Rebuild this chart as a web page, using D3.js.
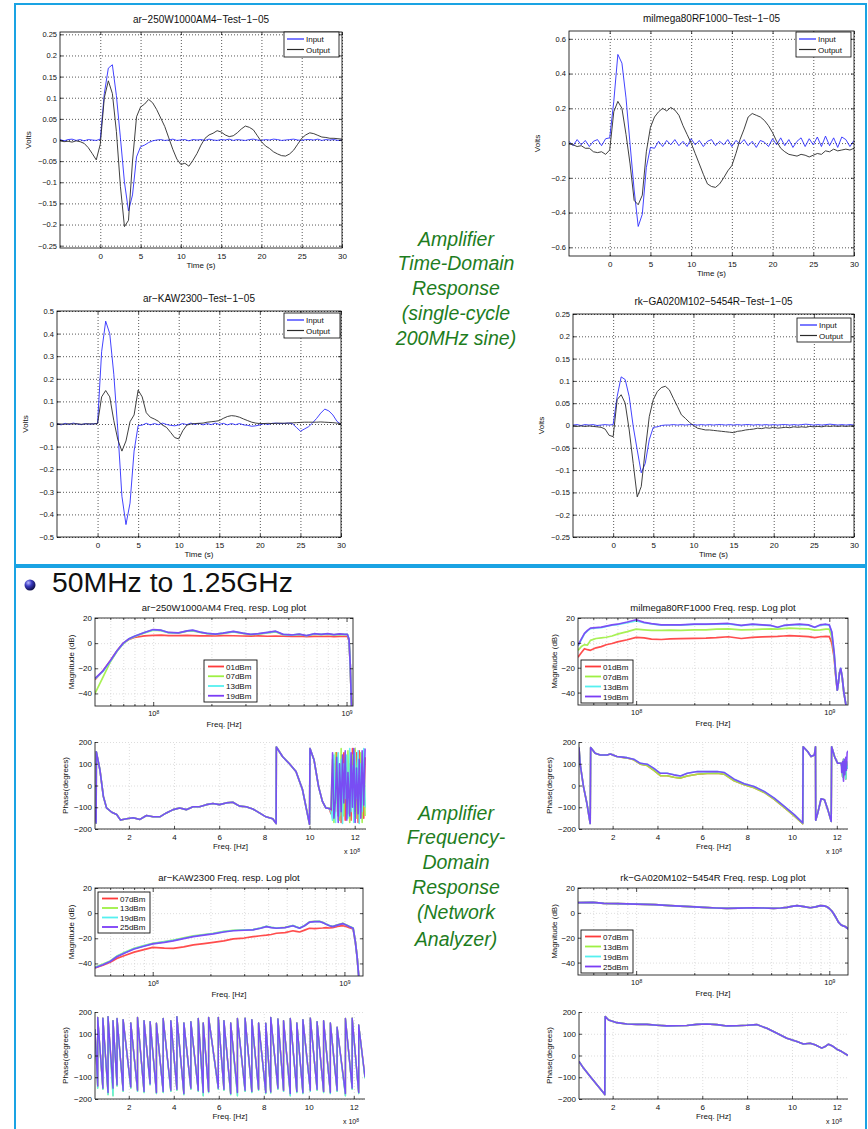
<!DOCTYPE html>
<html><head><meta charset="utf-8">
<script src="https://cdn.jsdelivr.net/npm/d3@7"></script>
<style>body{margin:0;background:#fff}svg{display:block}</style>
</head><body><script>
// ---------------- DATA ----------------
const timeGrid = [-5,-4.5,-4,-3.5,-3,-2.5,-2,-1.5,-1,-0.5,0,0.5,1,1.5,2,2.5,3,3.5,4,4.5,5,5.5,6,6.5,7,7.5,8,8.5,9,9.5,10,10.5,11,11.5,12,12.5,13,13.5,14,14.5,15,15.5,16,16.5,17,17.5,18,18.5,19,19.5,20,20.5,21,21.5,22,22.5,23,23.5,24,24.5,25,25.5,26,26.5,27,27.5,28,28.5,29,29.5,30];
const timeXTicks = [0,5,10,15,20,25,30];
const timeLegend = ['Input','Output'];

// ar-250W1000AM4
const tlTitle = 'ar−250W1000AM4−Test−1−05';
const tlYTicks = [-0.25,-0.2,-0.15,-0.1,-0.05,0,0.05,0.1,0.15,0.2,0.25];
const tlInput = [0.001,-0.002,0.001,0.002,-0.001,0.001,-0.002,0.001,0.000,-0.001,
 0.002,0.110,0.170,0.178,0.105,0.005,-0.100,-0.168,-0.130,-0.040,-0.016,-0.012,-0.006,-0.002,
 0.000,0.001,-0.001,0.000,0.002,-0.001,0.000,0.001,-0.002,0.001,0.000,0.001,-0.001,0.002,0.000,-0.001,0.001,0.000,0.002,-0.001,
 0.001,0.000,-0.001,0.001,0.002,0.000,-0.001,0.001,0.000,0.002,0.001,-0.001,0.000,0.001,0.002,0.000,-0.001,0.001,0.001,0.000,
 0.002,-0.001,0.001,0.000,0.001,-0.001,0.000];
const tlOutput = [-0.002,-0.004,-0.003,-0.005,-0.002,-0.004,-0.008,-0.018,-0.032,-0.047,
 -0.010,0.100,0.140,0.110,0.020,-0.110,-0.205,-0.190,-0.050,0.055,0.078,0.085,0.096,0.088,
 0.072,0.052,0.032,0.005,-0.022,-0.045,-0.058,-0.055,-0.062,-0.048,-0.032,-0.012,0.004,0.012,0.016,0.022,0.019,0.012,0.008,0.010,
 0.017,0.026,0.033,0.030,0.024,0.010,-0.004,-0.014,-0.020,-0.028,-0.033,-0.037,-0.038,-0.033,-0.024,-0.010,0.004,0.012,0.017,0.015,
 0.011,0.007,0.006,0.004,0.004,0.003,0.002];

// milmega80RF1000
const trTitle = 'milmega80RF1000−Test−1−05';
const trYTicks = [-0.6,-0.4,-0.2,0,0.2,0.4,0.6];
const trInput = [0.010,-0.015,0.020,-0.010,0.015,-0.020,0.010,0.020,-0.015,0.025,
 0.030,0.240,0.510,0.460,0.260,-0.006,-0.270,-0.480,-0.410,-0.140,-0.025,-0.030,0.010,-0.020,
 0.015,-0.010,0.020,-0.015,0.010,-0.020,0.025,-0.010,0.015,-0.020,0.010,0.020,-0.015,0.010,-0.010,0.020,-0.020,0.015,-0.005,0.020,
 -0.015,0.010,-0.025,0.015,0.005,-0.020,0.025,-0.010,0.030,-0.015,0.020,-0.025,0.010,0.030,-0.020,0.025,-0.010,0.035,-0.020,0.040,
 -0.015,0.030,-0.025,0.035,0.020,-0.020,0.015];
const trOutput = [-0.005,-0.010,-0.020,-0.015,-0.030,-0.030,-0.050,-0.055,-0.050,-0.065,
 -0.040,0.180,0.240,0.200,0.050,-0.120,-0.330,-0.355,-0.300,-0.050,0.090,0.150,0.180,0.200,
 0.185,0.205,0.190,0.160,0.100,0.050,0.000,-0.060,-0.120,-0.180,-0.235,-0.250,-0.255,-0.235,-0.200,-0.160,-0.130,-0.060,0.020,0.080,
 0.150,0.170,0.160,0.150,0.130,0.100,0.060,0.010,-0.030,-0.050,-0.065,-0.070,-0.075,-0.065,-0.070,-0.080,-0.070,-0.060,-0.065,-0.045,
 -0.050,-0.035,-0.045,-0.040,-0.035,-0.040,-0.030];

// ar-KAW2300
const blTitle = 'ar−KAW2300−Test−1−05';
const blYTicks = [-0.5,-0.4,-0.3,-0.2,-0.1,0,0.1,0.2,0.3,0.4,0.5];
const blInput = [0.002,-0.004,0.003,-0.002,0.004,0.000,-0.003,0.002,-0.001,0.001,
 0.003,0.320,0.455,0.400,0.220,-0.030,-0.320,-0.445,-0.350,-0.120,-0.007,-0.005,0.003,-0.004,
 0.002,-0.003,0.004,-0.002,-0.006,-0.008,-0.004,0.002,-0.003,0.004,-0.002,0.003,-0.004,0.002,-0.003,0.004,-0.002,0.003,-0.004,0.002,
 -0.003,0.002,-0.004,-0.006,-0.010,-0.008,-0.004,0.002,-0.002,0.003,0.004,0.002,0.003,0.004,0.002,-0.015,-0.032,-0.022,-0.012,0.005,
 0.025,0.048,0.066,0.058,0.040,0.012,-0.002];
const blOutput = [0.001,0.000,-0.001,0.001,0.000,0.001,-0.001,0.000,0.001,0.000,
 0.002,0.120,0.148,0.120,0.015,-0.070,-0.120,-0.075,0.010,0.040,0.150,0.120,0.050,0.030,
 0.022,0.012,-0.005,-0.015,-0.037,-0.060,-0.066,-0.030,-0.005,0.000,0.002,0.003,0.004,0.008,0.010,0.012,0.015,0.025,0.033,0.037,
 0.035,0.030,0.022,0.015,0.008,0.004,0.002,0.002,0.003,0.002,0.003,0.004,0.003,0.004,0.005,0.006,0.007,0.008,0.008,0.008,
 0.008,0.009,0.008,0.007,0.006,0.004,0.002];

// rk-GA020M102-5454R
const brTitle = 'rk−GA020M102−5454R−Test−1−05';
const brYTicks = [-0.25,-0.2,-0.15,-0.1,-0.05,0,0.05,0.1,0.15,0.2,0.25];
const brInput = [0.001,0.002,0.000,0.002,0.001,0.002,0.000,0.001,0.002,0.001,
 0.002,0.065,0.109,0.103,0.065,-0.002,-0.055,-0.106,-0.085,-0.032,-0.004,-0.003,0.000,0.001,
 0.001,0.002,0.001,0.002,0.001,0.002,0.002,0.001,0.002,0.001,0.002,0.001,0.002,0.002,0.001,0.002,0.001,0.002,0.001,0.002,
 0.002,0.001,0.002,0.001,0.002,0.001,0.002,0.001,0.002,0.002,0.001,0.002,0.001,0.002,0.003,0.002,0.001,0.002,0.001,0.002,
 0.003,0.002,0.001,0.002,0.001,0.002,0.001];
const brOutput = [-0.001,-0.002,-0.001,-0.002,-0.001,-0.002,-0.003,-0.004,-0.008,-0.022,
 -0.025,0.058,0.069,0.050,-0.010,-0.085,-0.160,-0.137,-0.055,0.020,0.058,0.076,0.085,0.088,
 0.080,0.061,0.043,0.024,0.016,0.007,0.000,-0.006,-0.008,-0.010,-0.010,-0.011,-0.012,-0.013,-0.014,-0.015,-0.016,-0.013,-0.012,-0.010,
 -0.009,-0.008,-0.006,-0.007,-0.005,-0.006,-0.004,-0.006,-0.005,-0.004,-0.005,-0.003,-0.004,-0.003,-0.004,-0.002,-0.003,-0.002,-0.003,-0.001,
 -0.002,-0.001,-0.002,-0.001,-0.002,-0.001,-0.002];

// ---- Frequency domain (frequencies in MHz, magnitudes in dB) ----
const magYTicks = [-40,-20,0,20];
const magMajorTicks = [100,1000];
const magMajorExp = ['8','9'];
const magMinorTicks = [60,70,80,90,200,300,400,500,600,700,800,900];
const legendA = ['01dBm','07dBm','13dBm','19dBm'];
const legendB = ['07dBm','13dBm','19dBm','25dBm'];

const m1Title = 'ar−250W1000AM4 Freq. resp. Log plot';
const m1Freq = [50,55,60,65,70,75,80,90,100,110,120,135,150,160,175,190,210,230,260,290,320,350,390,430,470,520,570,620,680,740,800,860,920,980,1010,1030,1045,1060,1080];
const m1Red    = [-29,-22,-14,-6,0,3,4.5,5.8,6.2,6.3,6,6,6.2,6,5.8,5.8,5.7,6,5.9,5.7,5.6,5.8,5.5,5.7,5.5,5.3,5.5,5.2,5.4,5.3,5.5,5.2,5.4,5.3,5.3,2,-17,-48,-70];
const m1Green  = [-40,-27,-15,-6.5,-0.5,3.2,5.2,8.2,10.3,10,8.3,8,9.5,9.8,8.5,7.5,7,7.8,9,7.8,6.8,7.2,8.2,9,6.8,6.3,7,5.9,7.2,6.8,7.2,6.6,7,6.8,6.8,3,-17,-48,-70];
const m1Cyan   = [-28.5,-22.5,-14.5,-6.2,-0.2,3.4,5.4,8.4,10.6,10.2,8.4,8.1,9.8,10.1,8.7,7.7,7.1,7.9,9.2,7.9,6.9,7.4,8.4,9.3,6.9,6.4,7.1,5.9,7.4,6.9,7.4,6.7,7.2,6.9,6.9,3,-17,-48,-70];
const m1Purple = [-28,-22,-14,-6,0,3.5,5.5,8.5,10.8,10.3,8.5,8.2,9.8,10.3,8.8,7.8,7.2,8,9.3,8,7,7.5,8.5,9.5,7,6.5,7.2,6,7.5,7,7.5,6.8,7.3,7,7,3,-17,-48,-70];

const m2Title = 'milmega80RF1000 Freq. resp. Log plot';
const m2Freq = [50,52,54,56,58,62,66,70,75,80,90,100,110,120,135,150,170,200,230,260,300,350,400,450,500,540,580,620,700,780,840,900,960,1000,1030,1060,1080,1100,1115,1130,1146,1165,1190,1220,1250];
const m2Red    = [-11.5,-8,-4.7,-5.5,-6,-4,-3,-1.5,-0.5,0.8,2.5,4.4,4,3,2.7,3.2,3.4,3.6,3.8,4.2,4.9,3.5,4.4,4.8,5,5.2,5.5,5.8,5.4,5,4.2,4.9,5.2,5,0,-12,-27,-38,-32,-24,-21,-27,-40,-50,-62];
const m2Green  = [-6,-3,-1.4,-1.8,2,3.5,4,4.5,5.5,7,9,11,10.5,10,10,10.2,10,10.5,10.5,11,11.2,10.5,10.7,11,11.3,11,11.5,11.8,11.5,11.2,10.2,10.4,11,11,5,-10,-26,-38,-32,-24,-21,-27,-40,-50,-62];
const m2Cyan   = [-2.5,2.5,7.2,9.6,11.4,12,12.3,13.2,14.2,14.7,16.3,17.6,16.2,15.2,14.3,14.3,14.3,14.8,14.8,15,15.3,13.8,14.8,14.2,13.8,12.4,13.8,14.2,14.7,14.2,12.4,14.2,14.7,14.2,8.5,-8.5,-25,-38,-32,-24,-20.5,-27,-40,-50,-62];
const m2Purple = [-2,3,7.7,10,11.8,12.3,12.6,13.5,14.5,15,16.8,18.6,16.5,15.5,14.5,14.5,14.5,15,15,15.3,15.6,14,15,14.5,14,12.6,14,14.5,15,14.5,12.6,14.5,15,14.5,9,-8,-25,-38,-32,-24,-20.5,-27,-40,-50,-62];

const m3Title = 'ar−KAW2300 Freq. resp. Log plot';
const m3Freq = [50,55,60,65,72,80,90,100,115,128,145,163,185,207,235,263,300,334,365,392,415,442,490,539,560,584,620,657,700,742,770,802,835,869,920,980,1020,1060,1110,1140,1165,1190,1230,1250];
const m3Red    = [-43.5,-41.5,-39,-36,-33.5,-31,-29,-27.2,-27.8,-28,-26.8,-25.3,-24.2,-23.2,-22,-20.5,-19.8,-18.7,-18,-17.5,-17,-16,-15.5,-14,-14.5,-15,-13.5,-12,-12.3,-12,-11.8,-11.5,-11.8,-11.5,-10.5,-10,-10.5,-11.5,-12.5,-22.7,-35,-52,-55,-55];
const m3Green  = [-43,-40.5,-38,-34.2,-31,-28,-25.8,-24,-22.6,-21.4,-19.7,-18.1,-17,-16,-14.5,-13.6,-13.2,-13,-11.8,-10.4,-11.2,-11.8,-11.3,-9.8,-10.8,-11.8,-9.8,-7,-6.6,-6.5,-7.3,-8.6,-9.8,-10.5,-9.3,-8.1,-9.3,-10.5,-11.8,-22.5,-35,-52,-55,-55];
const m3Cyan   = [-43.2,-40.8,-38.2,-34.4,-31.2,-28.2,-26,-24.2,-22.9,-21.7,-20,-18.4,-17.2,-16.2,-14.7,-13.8,-13.4,-13.1,-11.9,-10.5,-11.3,-11.9,-11.4,-9.9,-10.9,-11.9,-9.9,-7.1,-6.7,-6.6,-7.4,-8.7,-9.9,-10.6,-9.4,-8.2,-9.4,-10.6,-11.9,-22.6,-35,-52,-55,-55];
const m3Purple = [-43.5,-41,-38.5,-34.7,-31.5,-28.5,-26.3,-24.5,-23.2,-22,-20.3,-18.7,-17.5,-16.5,-15,-14,-13.6,-13.3,-12,-10.7,-11.5,-12,-11.5,-10,-11,-12,-10,-7.2,-6.8,-6.7,-7.5,-8.8,-10,-10.7,-9.5,-8.3,-9.5,-10.7,-12,-22.7,-35,-52,-55,-55];

const m4Title = 'rk−GA020M102−5454R Freq. resp. Log plot';
const m4Freq = [50,60,68,80,100,125,150,190,224,260,295,340,406,460,515,560,604,640,681,740,796,850,898,940,972,1000,1030,1052,1080,1115,1140,1159,1180,1207,1230,1254];
const m4Vals = [8.2,8.5,7.7,7.5,7.1,6.6,5.8,5,4.4,3.9,3.6,3.8,4.1,3.9,3.6,3.9,4.4,5.2,5.8,5,4.1,4.8,5.8,5.6,4.9,3.5,1.5,-0.5,-3.5,-7.4,-9,-10,-10.5,-11,-12,-13];

// ---- Phase (frequency in units of 1e8 Hz, phase in degrees) ----
const phaseYTicks = [-200,-100,0,100,200];
const phaseXTicks = [2,4,6,8,10,12];

const p1Freq = [0.5,0.55,0.56,0.72,0.87,1.01,1.24,1.46,1.63,1.9,2.19,2.49,2.78,3.07,3.37,3.66,3.96,4.25,4.54,4.84,5.13,5.43,5.72,6.01,6.31,6.6,6.9,7.19,7.49,7.78,8.07,8.37,8.52,8.53,8.81,9.1,9.4,9.69,9.91,10.0,10.02,10.2,10.4,10.57,10.72,10.87];
const p1Vals = [-110,-172,155,71,-50,-103,-123,-133,-159,-153,-148,-156,-138,-144,-144,-126,-111,-103,-111,-98,-98,-88,-83,-88,-80,-77,-95,-98,-108,-126,-144,-153,-175,177,132,101,64,-20,-133,-178,170,117,-5,-73,-103,-106];
const p1NoiseFreq = [10.95,11.02,11.08,11.15,11.2,11.27,11.33,11.4,11.46,11.52,11.58,11.65,11.7,11.78,11.84,11.9,11.96,12.02,12.08,12.15,12.2,12.27,12.33,12.4,12.46];
const p1NoiseRed    = [-130,-50,100,-120,150,-140,60,-170,100,150,-160,80,-130,100,-160,170,-60,-120,150,-170,160,-100,60,-150,130];
const p1NoiseGreen  = [-100,120,-170,150,-80,100,-160,170,-60,-140,130,-100,160,-170,60,140,-130,170,-150,100,-60,150,-170,120,-140];
const p1NoiseCyan   = [-120,-160,140,-170,60,150,-140,120,-175,100,-60,140,-150,170,-120,90,-170,150,-60,160,-175,100,-120,170,-100];
const p1NoisePurple = [-110,150,-150,-60,130,-170,100,-120,140,-80,160,-160,60,-140,150,-100,170,-170,80,-130,120,-150,160,-90,170];

const p2Freq = [0.5,0.55,0.7,0.85,1.0,1.02,1.22,1.45,1.75,1.9,2.19,2.64,2.94,3.24,3.54,3.84,4.13,4.43,4.73,5.03,5.33,5.78,6.22,6.67,6.97,7.42,7.87,8.31,8.76,9.21,9.66,10.1,10.48,10.5,10.7,10.85,11.0,11.05,11.06,11.15,11.3,11.45,11.6,11.75,11.77,11.9,12.04,12.2];
const p2Purple   = [175,100,-5,-81,-175,175,148,140,140,145,133,128,121,102,98,79,56,56,49,44,56,64,64,64,60,29,8,-5,-27,-58,-96,-134,-172,178,156,133,140,178,-160,-127,-61,-66,-111,-165,178,133,102,102];
const p2RedGreen = [175,100,-5,-81,-175,175,148,140,140,145,133,126,118,98,92,70,45,45,38,34,44,52,55,56,52,22,3,-10,-32,-64,-102,-140,-176,178,156,133,140,178,-160,-127,-61,-66,-111,-165,178,133,102,102];
const p2NoiseFreq = [12.22,12.26,12.3,12.33,12.36,12.4,12.43,12.46,12.5];
const p2NoisePurple = [60,110,20,120,50,130,70,150,160];
const p2NoiseOther  = [90,40,120,60,100,30,110,80,90];

const p3PeakFreq = [0.5,0.62,0.85,1.08,1.3,1.48,1.75,2.09,2.39,2.68,2.95,3.23,3.53,3.87,4.14,4.45,4.76,5.09,5.31,5.55,5.98,6.23,6.53,6.83,7.17,7.47,7.77,8.09,8.31,8.63,8.88,9.18,9.47,9.74,10.07,10.37,10.66,10.96,11.26,11.63,11.93,12.22,12.5];
const p3PeakTop = [120,175,172,178,160,170,165,150,175,160,155,148,170,160,178,150,155,170,150,175,175,160,150,170,172,165,150,148,175,168,160,170,150,165,172,155,160,150,130,170,172,140];
const p3Trough  = [-140,-150,-170,-150,-135,-160,-145,-160,-165,-130,-170,-165,-160,-155,-175,-150,-160,-170,-165,-150,-155,-175,-170,-160,-165,-155,-170,-168,-150,-160,-175,-165,-170,-160,-155,-165,-170,-160,-175,-150,-170,-100];
const p3TroughAlt = [-150,-155,-180,-185,-140,-165,-150,-165,-170,-135,-175,-170,-165,-160,-180,-155,-165,-185,-170,-155,-160,-180,-185,-165,-170,-160,-175,-172,-155,-165,-185,-170,-175,-165,-160,-170,-175,-165,-185,-155,-175,-105];

const p4Freq = [0.5,0.7,1.0,1.3,1.6,1.65,1.67,1.82,2.19,2.64,3.08,3.53,3.98,4.42,4.87,5.31,5.76,6.2,6.65,7.1,7.54,7.99,8.43,8.88,9.33,9.77,10.22,10.51,10.81,11.03,11.33,11.48,11.63,11.78,12.0,12.22,12.5];
const p4Vals = [-27,-58,-96,-134,-172,-180,179,163,151,145,143,143,139,136,137,138,143,145,142,136,137,139,142,125,102,79,64,53,56,49,34,41,52,45,29,18,0];

const annoTop = ['Amplifier','Time-Domain','Response','(single-cycle','200MHz sine)'];
const annoBottom = ['Amplifier','Frequency-','Domain','Response','(Network','Analyzer)'];
const heading = '50MHz to 1.25GHz';

// ---------------- DRAWING ----------------
const FONT = '"Liberation Sans", Arial, Helvetica, sans-serif';
const COL = {red:'#ff3a3a', green:'#9ef043', cyan:'#55f0f0', purple:'#7b3cf6', blue:'#2222ff', black:'#2a2a2a'};
const svg = d3.select('body').append('svg').attr('width',868).attr('height',1129)
  .style('font-family',FONT);
const defs = svg.append('defs');
let clipN = 0;
function addClip(x0,y0,x1,y1){
  const id = 'clip'+(clipN++);
  defs.append('clipPath').attr('id',id).append('rect').attr('x',x0).attr('y',y0).attr('width',x1-x0).attr('height',y1-y0);
  return `url(#${id})`;
}
function fmtNum(v){ const s = String(+Math.abs(v).toFixed(3)); return (v<0?'−':'')+s; }
function cleanAxis(sel, fs){
  sel.select('.domain').remove();
  sel.selectAll('.tick line').attr('stroke','#000').attr('stroke-width',0.7);
  sel.selectAll('.tick text').attr('font-size',fs).attr('font-family',FONT).attr('fill','#111');
}
function gridAxis(g, axis, transform, color){
  const a = g.append('g').attr('transform',transform).call(axis);
  a.select('.domain').remove();
  a.selectAll('.tick line').attr('stroke',color).attr('stroke-width',0.7).attr('stroke-dasharray','1,2');
  return a;
}
function text(g,x,y,str,fs,anchor,extra){
  const t = g.append('text').attr('x',x).attr('y',y).attr('font-size',fs).attr('text-anchor',anchor||'middle').attr('fill','#111').text(str);
  if(extra) extra(t);
  return t;
}
function vtext(g,x,y,str,fs){
  return g.append('text').attr('transform',`translate(${x},${y}) rotate(-90)`).attr('font-size',fs).attr('text-anchor','middle').attr('fill','#111').text(str);
}

// frames
svg.append('rect').attr('x',15).attr('y',4).attr('width',851).attr('height',561).attr('fill','none').attr('stroke','#1aa3e3').attr('stroke-width',2);
svg.append('rect').attr('x',15).attr('y',567).attr('width',851).attr('height',570).attr('fill','none').attr('stroke','#1aa3e3').attr('stroke-width',2);

function timePlot(o){
  const [x0,y0,x1,y1] = o.box;
  const x = d3.scaleLinear().domain([-5,30]).range([x0,x1]);
  const y = d3.scaleLinear().domain(o.ylim).range([y1,y0]);
  const g = svg.append('g');
  g.append('rect').attr('x',x0).attr('y',y0).attr('width',x1-x0).attr('height',y1-y0).attr('fill','#fff');
  gridAxis(g, d3.axisBottom(x).tickValues(timeXTicks).tickSize(-(y1-y0)).tickFormat(''), `translate(0,${y1})`, '#111');
  gridAxis(g, d3.axisLeft(y).tickValues(o.yticks).tickSize(-(x1-x0)).tickFormat(''), `translate(${x0},0)`, '#111');
  const clip = addClip(x0,y0,x1,y1);
  const gl = g.append('g').attr('clip-path',clip);
  const line = d3.line().x((d,i)=>x(timeGrid[i])).y(d=>y(d));
  gl.append('path').datum(o.input).attr('d',line).attr('fill','none').attr('stroke',COL.blue).attr('stroke-width',1).attr('stroke-opacity',0.85);
  gl.append('path').datum(o.output).attr('d',line).attr('fill','none').attr('stroke',COL.black).attr('stroke-width',0.9);
  g.append('rect').attr('x',x0).attr('y',y0).attr('width',x1-x0).attr('height',y1-y0).attr('fill','none').attr('stroke','#000').attr('stroke-width',0.8);
  cleanAxis(g.append('g').attr('transform',`translate(0,${y1})`).call(d3.axisBottom(x).tickValues(timeXTicks).tickFormat(fmtNum).tickSizeInner(-3).tickSizeOuter(0).tickPadding(5)),8);
  cleanAxis(g.append('g').attr('transform',`translate(0,${y0})`).call(d3.axisTop(x).tickValues(timeXTicks).tickFormat('').tickSizeInner(-3).tickSizeOuter(0)),8);
  cleanAxis(g.append('g').attr('transform',`translate(${x0},0)`).call(d3.axisLeft(y).tickValues(o.yticks).tickFormat(fmtNum).tickSizeInner(-3).tickSizeOuter(0).tickPadding(3)),7.5);
  cleanAxis(g.append('g').attr('transform',`translate(${x1},0)`).call(d3.axisRight(y).tickValues(o.yticks).tickFormat('').tickSizeInner(-3).tickSizeOuter(0)),8);
  text(g,(x0+x1)/2,y0-9,o.title,10);
  text(g,(x0+x1)/2,y1+20,'Time (s)',8);
  vtext(g,x0-29,(y0+y1)/2,'Volts',8);
  // legend
  const [lx0,ly0,lx1,ly1] = o.legend;
  g.append('rect').attr('x',lx0).attr('y',ly0).attr('width',lx1-lx0).attr('height',ly1-ly0).attr('fill','#fff').attr('stroke','#000').attr('stroke-width',0.8);
  const lcol = [COL.blue, COL.black];
  timeLegend.forEach((name,i)=>{
    const yy = ly0 + 7 + i*10.5;
    g.append('line').attr('x1',lx0+3).attr('x2',lx0+20).attr('y1',yy).attr('y2',yy).attr('stroke',lcol[i]).attr('stroke-width',1.2);
    text(g,lx0+22,yy+3,name,8,'start');
  });
}

timePlot({box:[60,32,342,248], ylim:[-0.2555,0.2555], yticks:tlYTicks, input:tlInput, output:tlOutput, title:tlTitle, legend:[284,32,339,57]});
timePlot({box:[569,31,854,256], ylim:[-0.65,0.645], yticks:trYTicks, input:trInput, output:trOutput, title:trTitle, legend:[796,32,851,57]});
timePlot({box:[57,311,341,537], ylim:[-0.5,0.5], yticks:blYTicks, input:blInput, output:blOutput, title:blTitle, legend:[284,313,340,338]});
timePlot({box:[573,314,854,537], ylim:[-0.25,0.25], yticks:brYTicks, input:brInput, output:brOutput, title:brTitle, legend:[797,318,851,342]});

function freqLegend(g, box, names, cols){
  const [lx0,ly0,lx1,ly1] = box;
  g.append('rect').attr('x',lx0).attr('y',ly0).attr('width',lx1-lx0).attr('height',ly1-ly0).attr('fill','#fff').attr('stroke','#111').attr('stroke-width',0.9);
  names.forEach((n,i)=>{
    const yy = ly0 + 6.5 + i*(ly1-ly0-3)/4;
    g.append('line').attr('x1',lx0+4).attr('x2',lx0+20).attr('y1',yy).attr('y2',yy).attr('stroke',cols[i]).attr('stroke-width',1.8);
    text(g,lx0+22,yy+3,n,8,'start');
  });
}

function magPlot(o){
  const [x0,y0,x1,y1] = o.box;
  const x = d3.scaleLog().domain(o.xdom).range([x0,x1]);
  const y = d3.scaleLinear().domain([-50,20]).range([y1,y0]);
  const g = svg.append('g');
  const vt = magMajorTicks.concat(magMinorTicks).filter(v=>v>o.xdom[0]&&v<o.xdom[1]);
  gridAxis(g, d3.axisBottom(x).tickValues(vt).tickSize(-(y1-y0)).tickFormat(''), `translate(0,${y1})`, '#cfcfcf');
  gridAxis(g, d3.axisLeft(y).tickValues(magYTicks).tickSize(-(x1-x0)).tickFormat(''), `translate(${x0},0)`, '#cfcfcf');
  const gl = g.append('g').attr('clip-path',addClip(x0,y0,x1,y1));
  o.series.forEach(s=>{
    gl.append('path').datum(s.vals).attr('d',d3.line().x((d,i)=>x(o.freq[i])).y(d=>y(d)))
      .attr('fill','none').attr('stroke',s.color).attr('stroke-width',1.7).attr('stroke-opacity',0.9).attr('stroke-linejoin','round');
  });
  g.append('rect').attr('x',x0).attr('y',y0).attr('width',x1-x0).attr('height',y1-y0).attr('fill','none').attr('stroke','#222').attr('stroke-width',0.9);
  const mt = magMinorTicks.filter(v=>v>o.xdom[0]&&v<o.xdom[1]);
  const ax = g.append('g').attr('transform',`translate(0,${y1})`).call(d3.axisBottom(x).tickValues(magMajorTicks).tickFormat(d=>'10').tickSizeInner(-4).tickSizeOuter(0).tickPadding(5));
  cleanAxis(ax,7.5);
  ax.selectAll('.tick text').each(function(d,i){ d3.select(this).append('tspan').attr('dy','-0.5em').attr('font-size',5).text(magMajorExp[i]); });
  cleanAxis(g.append('g').attr('transform',`translate(0,${y1})`).call(d3.axisBottom(x).tickValues(mt).tickFormat('').tickSizeInner(-2).tickSizeOuter(0)),7);
  cleanAxis(g.append('g').attr('transform',`translate(0,${y0})`).call(d3.axisTop(x).tickValues(magMajorTicks).tickFormat('').tickSizeInner(-4).tickSizeOuter(0)),7);
  cleanAxis(g.append('g').attr('transform',`translate(0,${y0})`).call(d3.axisTop(x).tickValues(mt).tickFormat('').tickSizeInner(-2).tickSizeOuter(0)),7);
  cleanAxis(g.append('g').attr('transform',`translate(${x0},0)`).call(d3.axisLeft(y).tickValues(magYTicks).tickFormat(fmtNum).tickSizeInner(-3).tickSizeOuter(0).tickPadding(3)),8);
  cleanAxis(g.append('g').attr('transform',`translate(${x1},0)`).call(d3.axisRight(y).tickValues(magYTicks).tickFormat('').tickSizeInner(-3).tickSizeOuter(0)),8);
  text(g,(x0+x1)/2,y0-7,o.title,9.5);
  text(g,(x0+x1)/2,y1+21,'Freq. [Hz]',8);
  vtext(g,x0-21,(y0+y1)/2,'Magnitude (dB)',8);
  freqLegend(g,o.legend,o.legendNames,o.series.map(s=>s.color));
}

function phasePlot(o){
  const [x0,y0,x1,y1] = o.box;
  const x = d3.scaleLinear().domain([0.5,12.5]).range([x0,x1]);
  const y = d3.scaleLinear().domain([-200,200]).range([y1,y0]);
  const g = svg.append('g');
  gridAxis(g, d3.axisBottom(x).tickValues(phaseXTicks).tickSize(-(y1-y0)).tickFormat(''), `translate(0,${y1})`, '#cfcfcf');
  gridAxis(g, d3.axisLeft(y).tickValues(phaseYTicks).tickSize(-(x1-x0)).tickFormat(''), `translate(${x0},0)`, '#cfcfcf');
  const gl = g.append('g').attr('clip-path',addClip(x0,y0-1,x1,y1+1));
  o.series.forEach(s=>{
    gl.append('path').datum(s.pts).attr('d',d3.line().x(d=>x(d[0])).y(d=>y(d[1])))
      .attr('fill','none').attr('stroke',s.color).attr('stroke-width',o.lw||1.6).attr('stroke-opacity',0.9).attr('stroke-linejoin','round');
  });
  g.append('line').attr('x1',x0).attr('x2',x0).attr('y1',y0).attr('y2',y1).attr('stroke','#222').attr('stroke-width',0.9);
  g.append('line').attr('x1',x0).attr('x2',x1).attr('y1',y1).attr('y2',y1).attr('stroke','#222').attr('stroke-width',0.9);
  cleanAxis(g.append('g').attr('transform',`translate(0,${y1})`).call(d3.axisBottom(x).tickValues(phaseXTicks).tickFormat(d3.format('d')).tickSizeInner(-3).tickSizeOuter(0).tickPadding(5)),8);
  cleanAxis(g.append('g').attr('transform',`translate(${x0},0)`).call(d3.axisLeft(y).tickValues(phaseYTicks).tickFormat(fmtNum).tickSizeInner(-3).tickSizeOuter(0).tickPadding(3)),8);
  text(g,(x0+x1)/2,y1+20,'Freq. [Hz]',8);
  const xl = text(g,x1-22,y1+25,'x 10',7,'start');
  xl.append('tspan').attr('dy','-0.5em').attr('font-size',5).text('8');
  vtext(g,x0-27,(y0+y1)/2,'Phase(degrees)',8);
}

function zipPts(f,v){ return f.map((ff,i)=>[ff,v[i]]); }
function sawPts(peaks,tops,troughs){
  const pts=[];
  tops.forEach((t,i)=>{ pts.push([peaks[i],t]); pts.push([peaks[i+1],troughs[i]]); });
  return pts;
}

magPlot({box:[95,618,353,706], xdom:[50,1080], freq:m1Freq, title:m1Title, legend:[204,660,257,702], legendNames:legendA,
  series:[{vals:m1Red,color:COL.red},{vals:m1Green,color:COL.green},{vals:m1Cyan,color:COL.cyan},{vals:m1Purple,color:COL.purple}]});
magPlot({box:[578,618,848,705], xdom:[50,1250], freq:m2Freq, title:m2Title, legend:[581,660,633,703], legendNames:legendA,
  series:[{vals:m2Red,color:COL.red},{vals:m2Green,color:COL.green},{vals:m2Cyan,color:COL.cyan},{vals:m2Purple,color:COL.purple}]});
magPlot({box:[95,888,363,976], xdom:[50,1250], freq:m3Freq, title:m3Title, legend:[98,892,150,933], legendNames:legendB,
  series:[{vals:m3Red,color:COL.red},{vals:m3Green,color:COL.green},{vals:m3Cyan,color:COL.cyan},{vals:m3Purple,color:COL.purple}]});
magPlot({box:[578,888,848,975], xdom:[50,1250], freq:m4Freq, title:m4Title, legend:[581,930,633,973], legendNames:legendB,
  series:[{vals:m4Vals,color:COL.red},{vals:m4Vals,color:COL.green},{vals:m4Vals,color:COL.cyan},{vals:m4Vals,color:COL.purple}]});

const p1Base = zipPts(p1Freq,p1Vals);
phasePlot({box:[95,742,366,829], series:[
  {pts:p1Base.concat(zipPts(p1NoiseFreq,p1NoiseRed)),color:COL.red},
  {pts:p1Base.concat(zipPts(p1NoiseFreq,p1NoiseGreen)),color:COL.green},
  {pts:p1Base.concat(zipPts(p1NoiseFreq,p1NoiseCyan)),color:COL.cyan},
  {pts:p1Base.concat(zipPts(p1NoiseFreq,p1NoisePurple)),color:COL.purple}]});
phasePlot({box:[579,742,848,829], series:[
  {pts:zipPts(p2Freq,p2RedGreen).concat(zipPts(p2NoiseFreq,p2NoiseOther)),color:COL.red},
  {pts:zipPts(p2Freq,p2RedGreen).concat(zipPts(p2NoiseFreq,p2NoiseOther)),color:COL.green},
  {pts:zipPts(p2Freq,p2Purple).concat(zipPts(p2NoiseFreq,p2NoiseOther)),color:COL.cyan},
  {pts:zipPts(p2Freq,p2Purple).concat(zipPts(p2NoiseFreq,p2NoisePurple)),color:COL.purple}]});
phasePlot({box:[95,1012,365,1099], lw:1.4, series:[
  {pts:sawPts(p3PeakFreq,p3PeakTop,p3Trough),color:COL.red},
  {pts:sawPts(p3PeakFreq,p3PeakTop,p3TroughAlt),color:COL.green},
  {pts:sawPts(p3PeakFreq,p3PeakTop,p3TroughAlt),color:COL.cyan},
  {pts:sawPts(p3PeakFreq,p3PeakTop,p3Trough),color:COL.purple}]});
phasePlot({box:[579,1012,848,1099], series:[
  {pts:zipPts(p4Freq,p4Vals),color:COL.red},
  {pts:zipPts(p4Freq,p4Vals),color:COL.green},
  {pts:zipPts(p4Freq,p4Vals),color:COL.cyan},
  {pts:zipPts(p4Freq,p4Vals),color:COL.purple}]});

// green annotations
const GREEN = '#1e7d1e';
const annTopY = [246,270,295,320,345];
const annBotY = [820,844,869,894,919,946];
annoTop.forEach((s,i)=> svg.append('text').attr('x',456).attr('y',annTopY[i]).attr('text-anchor','middle').attr('font-size',19.5).attr('font-style','italic').attr('fill',GREEN).text(s));
annoBottom.forEach((s,i)=> svg.append('text').attr('x',456).attr('y',annBotY[i]).attr('text-anchor','middle').attr('font-size',19.5).attr('font-style','italic').attr('fill',GREEN).text(s));

// bullet heading
const rg = defs.append('radialGradient').attr('id','ball').attr('cx','35%').attr('cy','30%').attr('r','70%');
rg.append('stop').attr('offset','0%').attr('stop-color','#b8b8ff');
rg.append('stop').attr('offset','45%').attr('stop-color','#3a3ac0');
rg.append('stop').attr('offset','100%').attr('stop-color','#10104a');
svg.append('circle').attr('cx',30).attr('cy',585).attr('r',5.5).attr('fill','url(#ball)');
svg.append('text').attr('x',52).attr('y',592).attr('font-size',27).attr('fill','#111').attr('textLength',241).attr('lengthAdjust','spacingAndGlyphs').text(heading);
</script></body></html>
